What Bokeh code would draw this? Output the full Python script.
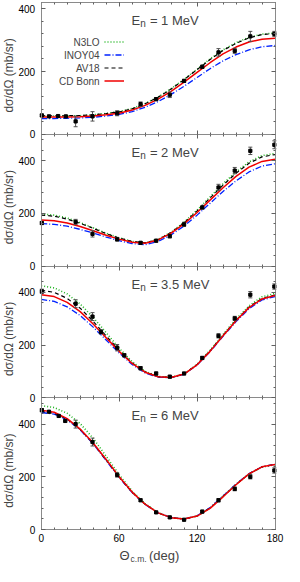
from math import pi
from bokeh.plotting import figure
from bokeh.models import (Range1d, LinearAxis, FixedTicker, SingleIntervalTicker,
                          CustomJSTickFormatter, Label, Legend, LegendItem)
from bokeh.embed import file_html
from bokeh.resources import INLINE
from bokeh.core.properties import value

FONT = "Liberation Sans"

# ---------------- data ----------------
theta_model = [0, 10, 20, 30, 40, 50, 60, 70, 80, 90, 100, 110, 120, 130, 140, 150, 160, 170, 180]

# En = 1 MeV
n3lo_1 = [58, 58, 58, 59, 62, 66, 72, 82, 98, 119, 145, 175, 207, 240, 269, 292, 309, 319, 323]
inoy_1 = [50, 50, 51, 52, 54, 58, 63, 72, 86, 104, 127, 153, 181, 209, 234, 254, 269, 279, 283]
av18_1 = [59, 59, 59, 60, 62, 66, 71, 81, 97, 118, 144, 174, 206, 238, 267, 290, 307, 318, 321]
cdb_1 = [55, 55, 55, 56, 58, 62, 67, 77, 92, 112, 137, 166, 197, 228, 256, 278, 294, 303, 306]
exp_theta_1 = [0.5, 6, 13, 19, 26.5, 39.5, 58.5, 76.5, 88.5, 99, 110, 124, 136.5, 149, 161, 179.5]
exp_1 = [60, 57, 58, 57, 41, 57, 67, 96, 112, 126, 170, 215, 261, 266, 312, 320]
err_1 = [4, 3, 3, 3, 17, 15, 8, 7, 5, 9, 5, 5, 12, 8, 16, 8]

# En = 2 MeV
n3lo_2 = [197, 193, 182, 165, 145, 124, 107, 93, 88, 101, 128, 166, 212, 262, 312, 357, 395, 419, 427]
inoy_2 = [161, 158, 151, 139, 125, 110, 96, 85, 81, 93, 118, 152, 193, 238, 283, 323, 357, 379, 388]
av18_2 = [193, 189, 178, 162, 143, 123, 106, 93, 88, 100, 127, 164, 209, 258, 307, 352, 390, 414, 423]
cdb_2 = [175, 172, 163, 150, 134, 117, 102, 90, 86, 99, 125, 160, 203, 250, 297, 340, 375, 397, 405]
exp_theta_2 = [0.5, 26.5, 39.5, 58.5, 76.5, 88.5, 99, 110, 124, 136.5, 149, 161, 179.5]
exp_2 = [163, 167, 122, 101, 88, 96, 113, 158, 222, 298, 362, 437, 460]
err_2 = [5, 10, 12, 6, 5, 5, 6, 8, 6, 12, 12, 14, 15]

# En = 3.5 MeV
n3lo_35 = [425, 417, 394, 356, 305, 247, 188, 137, 100, 81, 77, 90, 127, 180, 240, 298, 349, 383, 396]
inoy_35 = [373, 366, 345, 312, 268, 219, 170, 126, 94, 78, 76, 89, 124, 175, 233, 289, 338, 371, 384]
av18_35 = [408, 400, 377, 340, 290, 235, 180, 132, 98, 80, 77, 90, 126, 178, 237, 294, 344, 377, 390]
cdb_35 = [391, 384, 362, 327, 280, 228, 176, 130, 97, 80, 77, 90, 125, 176, 235, 292, 342, 375, 388]
exp_theta_35 = [0.5, 26.5, 39.5, 46, 58.5, 64, 76.5, 88.5, 99, 110, 124, 136.5, 149, 161, 179.5]
exp_35 = [404, 357, 308, 250, 190, 161, 112, 92, 80, 92, 151, 235, 301, 391, 422]
err_35 = [8, 15, 15, 8, 12, 6, 6, 6, 5, 5, 6, 8, 8, 12, 10]

# En = 6 MeV
n3lo_6 = [470, 463, 441, 402, 346, 278, 208, 146, 98, 64, 45, 40, 51, 82, 127, 171, 211, 237, 246]
inoy_6 = [444, 438, 416, 378, 325, 262, 197, 140, 95, 63, 45, 40, 52, 83, 127, 172, 212, 238, 247]
av18_6 = [448, 441, 419, 380, 327, 264, 199, 141, 96, 63, 45, 40, 51, 81, 125, 171, 211, 238, 247]
cdb_6 = [453, 445, 421, 381, 328, 266, 200, 142, 96, 63, 45, 40, 51, 80, 124, 170, 211, 238, 247]
exp_theta_6 = [0.5, 6, 13.5, 18.5, 26.5, 39.5, 58.5, 76.5, 88.5, 99, 110, 124, 136.5, 149, 161, 179.5]
exp_6 = [453, 447, 431, 412, 400, 332, 207, 111, 65, 46, 37, 68, 111, 154, 200, 224]
err_6 = [6, 4, 4, 4, 15, 15, 8, 5, 4, 4, 4, 5, 6, 7, 8, 10]

energies = ["1", "2", "3.5", "6"]
panel_tops = [420, 500, 500, 500]
x_ticks = [0, 60, 120, 180]
model_names = ["N3LO", "INOY04", "AV18", "CD Bonn"]
y_label = "dσ/dΩ (mb/sr)"

panels = [
    dict(n3lo=n3lo_1, inoy=inoy_1, av18=av18_1, cdb=cdb_1, th=exp_theta_1, v=exp_1, e=err_1),
    dict(n3lo=n3lo_2, inoy=inoy_2, av18=av18_2, cdb=cdb_2, th=exp_theta_2, v=exp_2, e=err_2),
    dict(n3lo=n3lo_35, inoy=inoy_35, av18=av18_35, cdb=cdb_35, th=exp_theta_35, v=exp_35, e=err_35),
    dict(n3lo=n3lo_6, inoy=inoy_6, av18=av18_6, cdb=cdb_6, th=exp_theta_6, v=exp_6, e=err_6),
]

# ---------------- layout geometry (canvas pixels) ----------------
NP = 4
CW, CH = 284, 566
X0, X1 = 40.7, 274.5          # where theta = 0 and 180 sit
Y_TOP, Y_BOT = 2, 529         # top of first panel, bottom of last panel
sx = (X1 - X0) / 180.0
ph = (Y_BOT - Y_TOP) / NP
u_start = -(CH - Y_BOT) / ph
u_end = NP + Y_TOP / ph

p = figure(width=CW, height=CH, output_backend="svg", toolbar_location=None,
           x_range=Range1d(-X0 / sx, 180 + (CW - X1) / sx), y_range=Range1d(u_start, u_end),
           x_axis_location=None, y_axis_location=None, min_border=0)
p.grid.grid_line_color = None
p.outline_line_color = None
p.background_fill_color = "white"

FRAME = "#8a8a8a"
TICK = "#606060"


def style_axis(ax, tin=4, tout=0, mtin=2, mtout=0):
    ax.axis_line_color = FRAME
    ax.axis_line_width = 1
    ax.major_tick_in = tin
    ax.major_tick_out = tout
    ax.minor_tick_in = mtin
    ax.minor_tick_out = mtout
    ax.major_tick_line_color = TICK
    ax.minor_tick_line_color = TICK
    ax.major_label_text_font = FONT
    ax.major_label_text_font_size = "10px"
    ax.major_label_text_color = "black"


blank = CustomJSTickFormatter(code="return '';")
xticker = FixedTicker(ticks=x_ticks, minor_ticks=list(range(0, 181, 10)))

names = []
for k, top in enumerate(panel_tops):
    nm = "panel%d" % k
    names.append(nm)
    off = NP - 1 - k
    p.extra_y_ranges[nm] = Range1d(start=(u_start - off) * top, end=(u_end - off) * top)

    yl = LinearAxis(y_range_name=nm, fixed_location=0, bounds=(0, top),
                    ticker=SingleIntervalTicker(interval=200, num_minor_ticks=5),
                    major_label_standoff=6)
    style_axis(yl)
    p.add_layout(yl, "left")

    yr = LinearAxis(y_range_name=nm, fixed_location=180, bounds=(0, top),
                    ticker=SingleIntervalTicker(interval=200, num_minor_ticks=5),
                    formatter=blank, major_label_standoff=0)
    style_axis(yr)
    p.add_layout(yr, "right")

    xt = LinearAxis(y_range_name=nm, fixed_location=top, bounds=(0, 180),
                    ticker=xticker, formatter=blank, major_label_standoff=0)
    style_axis(xt)
    p.add_layout(xt, "above")

    last = (k == NP - 1)
    xb = LinearAxis(y_range_name=nm, fixed_location=0, bounds=(0, 180), ticker=xticker,
                    major_label_standoff=4)
    if not last:
        xb.formatter = blank
    style_axis(xb)
    p.add_layout(xb, "below")

legend_renderers = None
for k, P in enumerate(panels):
    nm = names[k]
    top = panel_tops[k]
    r_n = p.line(theta_model, P["n3lo"], y_range_name=nm, line_color="#22b422",
                 line_width=1.6, line_dash="1 2")
    r_i = p.line(theta_model, P["inoy"], y_range_name=nm, line_color="#0022ff",
                 line_width=1.3, line_dash="6 2 1 2")
    r_a = p.line(theta_model, P["av18"], y_range_name=nm, line_color="black",
                 line_width=1.2, line_dash="4 3")
    r_c = p.line(theta_model, P["cdb"], y_range_name=nm, line_color="#f00000",
                 line_width=1.5)
    if k == 0:
        legend_renderers = [r_n, r_i, r_a, r_c]
    lo = [v - e for v, e in zip(P["v"], P["e"])]
    hi = [v + e for v, e in zip(P["v"], P["e"])]
    p.segment(x0=P["th"], y0=lo, x1=P["th"], y1=hi, y_range_name=nm,
              line_color="#505050", line_width=1)
    p.scatter(P["th"] + P["th"], lo + hi, marker="dash", size=4, y_range_name=nm,
              line_color="#505050", line_width=1)
    p.scatter(P["th"], P["v"], marker="square", size=3.2, y_range_name=nm,
              fill_color="black", line_color="black")

    # panel title E_n = ... MeV
    p.add_layout(Label(x=69.6, y=top, y_range_name=nm, y_offset=-18, text="E",
                       text_font=FONT, text_font_size="13px", text_baseline="alphabetic"))
    p.add_layout(Label(x=69.6, y=top, y_range_name=nm, x_offset=8.7, y_offset=-21, text="n",
                       text_font=FONT, text_font_size="10px", text_baseline="alphabetic"))
    p.add_layout(Label(x=69.6, y=top, y_range_name=nm, x_offset=18.3, y_offset=-18,
                       text="= %s MeV" % energies[k],
                       text_font=FONT, text_font_size="13px", text_baseline="alphabetic"))
    # y-axis title of this panel
    p.add_layout(Label(x=0, y=top / 2, y_range_name=nm, x_offset=-(X0 - 8.5), y_offset=-7,
                       angle=pi / 2, text=y_label, text_align="center",
                       text_baseline="middle", text_font=FONT, text_font_size="12px"))

# legend: line samples (library legend) with the names written to their left
LEG_TOP = 33
legend = Legend(items=[LegendItem(label=value(" "), renderers=[r]) for r in legend_renderers],
                location=(round(X0 + 48.6 * sx), CH - Y_TOP - LEG_TOP - 52),
                orientation="vertical",
                glyph_width=20, glyph_height=13, label_width=0, label_height=13,
                label_standoff=0, spacing=0, padding=0, margin=0,
                border_line_color=None, background_fill_alpha=0,
                label_text_font_size="10px")
p.add_layout(legend)
for i, nmod in enumerate(model_names):
    p.add_layout(Label(x=45, y=panel_tops[0], y_range_name=names[0],
                       y_offset=-(LEG_TOP + 6.5 + 13 * i),
                       text=nmod, text_align="right", text_baseline="middle",
                       text_font=FONT, text_font_size="10px"))

# x-axis title  Θ_c.m. (deg)
last_nm = names[-1]
p.add_layout(Label(x=60.2, y=0, y_range_name=last_nm, y_offset=-26, text="Θ",
                   text_font=FONT, text_font_size="13px", text_baseline="alphabetic"))
p.add_layout(Label(x=60.2, y=0, y_range_name=last_nm, x_offset=11.2, y_offset=-29, text="c.m.",
                   text_font=FONT, text_font_size="8.5px", text_baseline="alphabetic"))
p.add_layout(Label(x=60.2, y=0, y_range_name=last_nm, x_offset=29.5, y_offset=-26, text="(deg)",
                   text_font=FONT, text_font_size="13px", text_baseline="alphabetic"))

open("out.html", "w").write(file_html(p, INLINE))
